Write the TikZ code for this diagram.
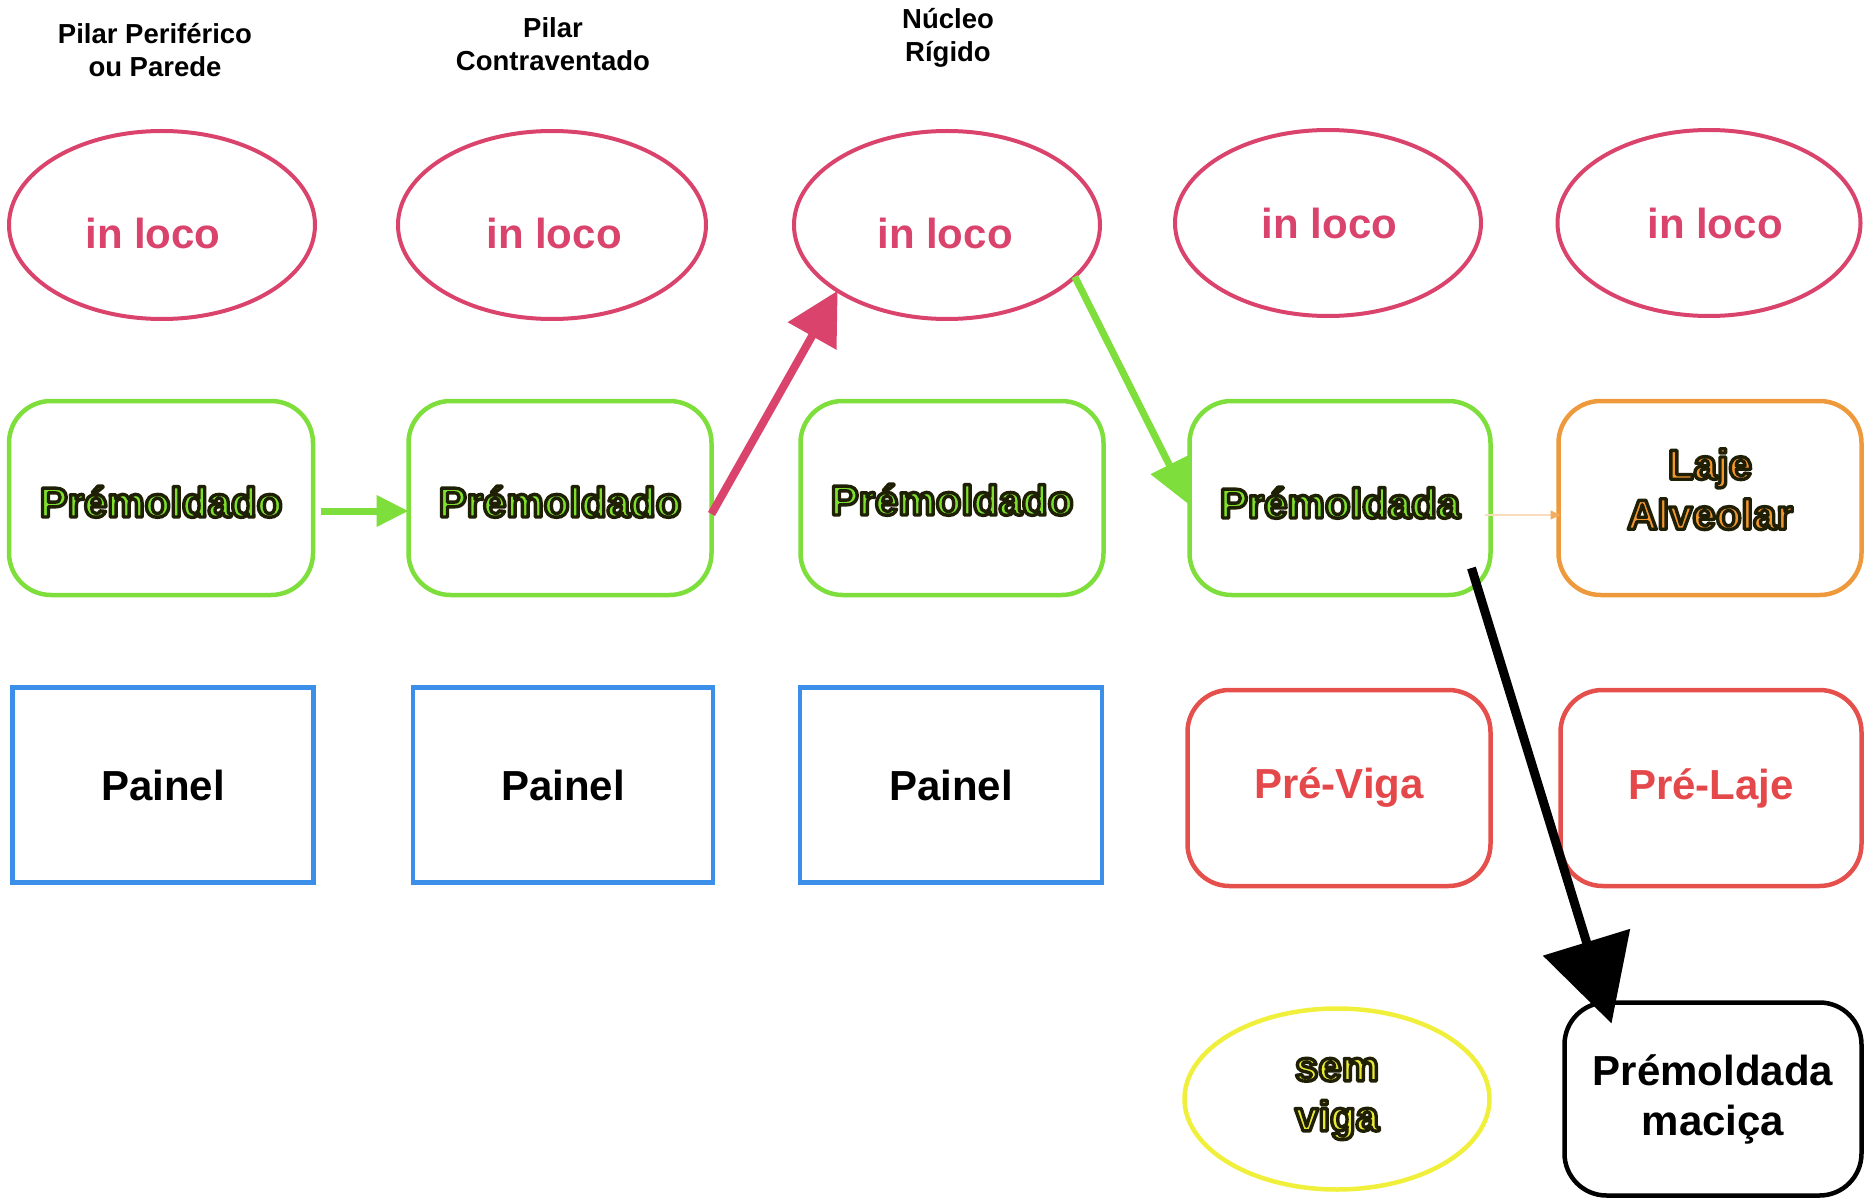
\documentclass[tikz,border=0pt]{standalone}
\usepackage{fontspec}
\setmainfont{Liberation Sans}
\usetikzlibrary{arrows.meta,shapes.geometric,calc}
\definecolor{cpink}{HTML}{D9436C}
\definecolor{cgreen}{HTML}{7DDE3C}
\definecolor{cgreentxt}{HTML}{7EE02C}
\definecolor{cblue}{HTML}{3B8FE8}
\definecolor{corange}{HTML}{EE9A3C}
\definecolor{corangetxt}{HTML}{F2962E}
\definecolor{cred}{HTML}{E5504C}
\definecolor{credtxt}{HTML}{E5484A}
\definecolor{cyellow}{HTML}{F0F03C}
\definecolor{cyellowtxt}{HTML}{EAEA36}
% outlined text: fill + stroke rendering mode
\newcommand{\outl}[1]{\special{pdf:literal direct q 2 Tr 3.4 w 1 j 0.12 0.12 0.02 RG}#1\special{pdf:literal direct Q}}
\begin{document}
\begin{tikzpicture}[x=1pt,y=-1pt,
  every node/.style={font=\bfseries\fontsize{42}{50}\selectfont, inner sep=0pt, outer sep=0pt, align=center},
  hdr/.style={font=\bfseries\fontsize{27.5}{33}\selectfont, text=black},
  oval/.style={ellipse, draw=cpink, line width=4pt, text=cpink},
  gbox/.style={rectangle, rounded corners=42pt, draw=cgreen, line width=4.5pt, text=cgreentxt},
  obox/.style={rectangle, rounded corners=42pt, draw=corange, line width=4.5pt, text=corangetxt},
  rbox/.style={rectangle, rounded corners=42pt, draw=cred, line width=4.5pt, text=credtxt},
  kbox/.style={rectangle, rounded corners=42pt, draw=black, line width=4.5pt, text=black},
  bbox/.style={rectangle, draw=cblue, line width=4.5pt, text=black},
  yoval/.style={ellipse, draw=cyellow, line width=4.5pt, text=cyellowtxt},
  garrow/.style={draw=cgreen, line width=7pt, -{Triangle[length=32pt,width=30pt]}},
  garrowb/.style={draw=cgreen, line width=7pt, -{Triangle[length=45pt,width=40pt]}},
  parrow/.style={draw=cpink, line width=8pt, -{Triangle[length=52pt,width=54pt]}},
  karrow/.style={draw=black, line width=9pt, -{Triangle[length=85pt,width=89pt]}},
  oarrow/.style={draw=corange!35, line width=1.2pt, -{Triangle[length=10pt,width=9pt,color=corange!80]}}
]
\useasboundingbox (0,0) rectangle (1864,1198);

% headers
\node[hdr] (h1) at (155,50) {Pilar Periférico\\ou Parede};
\node[hdr] (h2) at (553,44) {Pilar\\Contraventado};
\node[hdr] (h3) at (948,38) {Núcleo\\Rígido};

% row 1: in loco
\node[oval, minimum width=306pt, minimum height=188pt] (e1) at (162,225) {\raisebox{-24pt}[0pt][0pt]{in loco\kern18pt}};
\node[oval, minimum width=308pt, minimum height=188pt] (e2) at (552,225) {\raisebox{-24pt}[0pt][0pt]{\kern4pt in loco}};
\node[oval, minimum width=306pt, minimum height=188pt] (e3) at (947,225) {\raisebox{-24pt}[0pt][0pt]{in loco\kern4pt}};
\node[oval, minimum width=306pt, minimum height=186pt] (e4) at (1328,223) {\kern3pt in loco};
\node[oval, minimum width=303pt, minimum height=186pt] (e5) at (1709,223) {\kern12pt in loco};

% row 2
\node[gbox, minimum width=304pt, minimum height=194pt] (g1) at (161,498) {\raisebox{-19pt}[0pt][0pt]{\outl{Prémoldado}}};
\node[gbox, minimum width=303pt, minimum height=194pt] (g2) at (560,498) {\raisebox{-19pt}[0pt][0pt]{\outl{Prémoldado}}};
\node[gbox, minimum width=303pt, minimum height=194pt] (g3) at (952,498) {\raisebox{-17pt}[0pt][0pt]{\outl{Prémoldado}}};
\node[gbox, minimum width=301pt, minimum height=194pt] (g4) at (1340,498) {\raisebox{-20pt}[0pt][0pt]{\outl{Prémoldada}}};
\node[obox, minimum width=303pt, minimum height=194pt, text depth=18pt] (o5) at (1710,498) {\outl{Laje}\\\outl{Alveolar}};

% row 3
\node[bbox, minimum width=301pt, minimum height=195pt] (b1) at (163,785) {Painel};
\node[bbox, minimum width=300pt, minimum height=195pt] (b2) at (563,785) {Painel};
\node[bbox, minimum width=302pt, minimum height=195pt] (b3) at (951,785) {Painel};
\node[rbox, minimum width=303pt, minimum height=196pt] (r4) at (1339,788) {Pré-Viga};
\node[rbox, minimum width=301pt, minimum height=196pt] (r5) at (1711,788) {Pré-Laje};

% row 4
\node[yoval, minimum width=305pt, minimum height=181pt] (y4) at (1337,1099) {\outl{sem}\\\outl{viga}};
\node[kbox, minimum width=297pt, minimum height=193pt] (k5) at (1713,1099) {Prémoldada\\maciça};

% connectors
\draw[garrow] ([shift={(8pt,-13pt)}]g1.east) -- ([yshift=-13pt]g2.west);
\draw[parrow] ([yshift=-16pt]g2.east) -- (e3.211);
\draw[garrowb] (e3.-22) -- ([yshift=-7pt]g4.west);
\draw[oarrow] ([shift={(-6pt,-17pt)}]g4.east) -- ([shift={(2pt,-17pt)}]o5.west);
\draw[karrow] ([shift={(-19pt,27pt)}]g4.south east) -- ([shift={(47pt,-21pt)}]k5.north west);
\end{tikzpicture}
\end{document}
